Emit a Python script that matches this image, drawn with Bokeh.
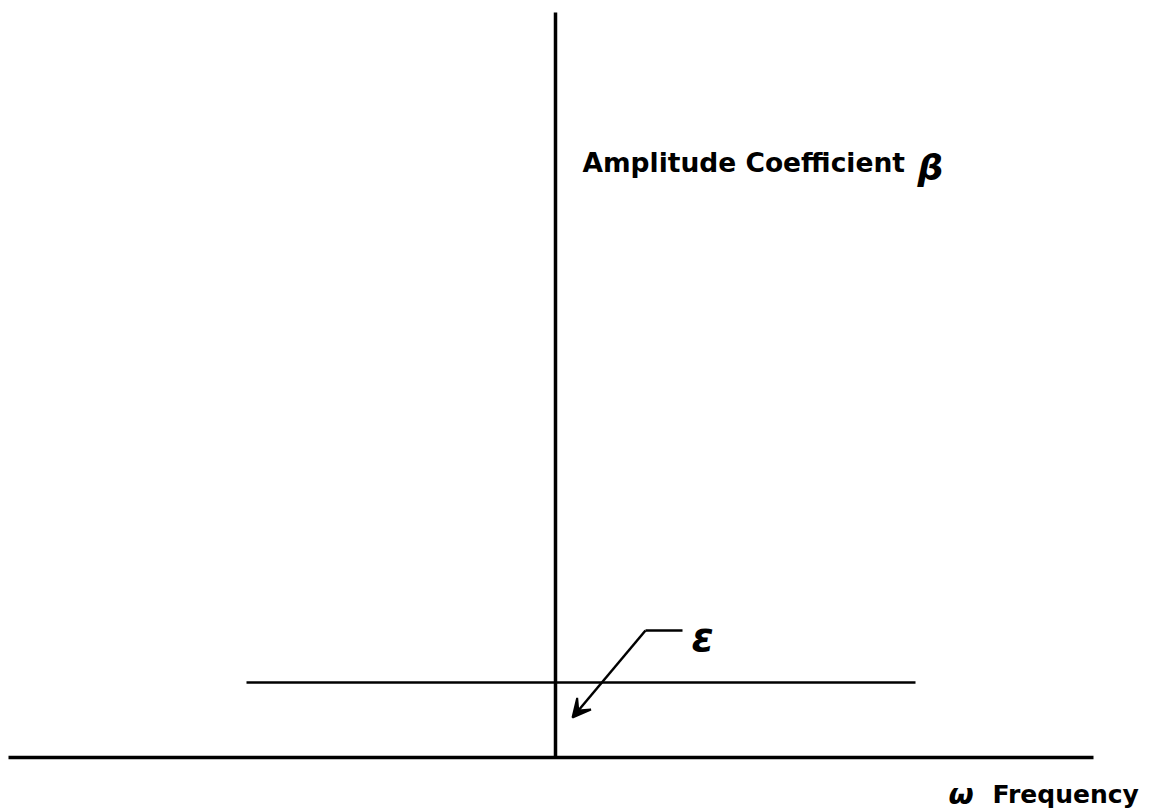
from bokeh.plotting import figure
from bokeh.models import Range1d, Arrow, VeeHead
from bokeh.core.properties import value
from bokeh.embed import file_html
from bokeh.resources import INLINE

# Schematic coordinates (origin at the intersection of the two axes)
freq_axis_x = [-547, 538]
freq_axis_y = [0, 0]
amp_axis_x = [0, 0]
amp_axis_y = [0, 745]
eps_x = [-309, 360]
eps_y = [75, 75]
leader_x = [127, 90]
leader_y = [127, 127]
arrow_tip = [17, 40]

amp_label = "Amplitude Coefficient"
amp_label_pos = [27, 595]
beta_label = "β"
beta_pos = [362, 590]
eps_label = "ε"
eps_pos = [136, 121]
omega_label = "ω"
omega_pos = [393, -36]
freq_label = "Frequency"
freq_pos = [437, -37]

W, H = 1151, 812
p = figure(width=W, height=H, output_backend="svg", toolbar_location=None,
           x_range=Range1d(-555, 596), y_range=Range1d(-55, 757),
           min_border=0, min_border_left=0, min_border_right=0,
           min_border_top=0, min_border_bottom=0)
p.axis.visible = False
p.grid.visible = False
p.outline_line_color = None
p.background_fill_color = "white"
p.border_fill_color = "white"

p.line(freq_axis_x, freq_axis_y, line_color="black", line_width=3.5)
p.line(amp_axis_x, amp_axis_y, line_color="black", line_width=3.5)
p.line(eps_x, eps_y, line_color="black", line_width=2.5)
p.line(leader_x, leader_y, line_color="black", line_width=2.5)
p.add_layout(Arrow(end=VeeHead(size=18, fill_color="black", line_color="black", line_width=2),
                   x_start=leader_x[1], y_start=leader_y[1],
                   x_end=arrow_tip[0], y_end=arrow_tip[1],
                   line_color="black", line_width=2.5))

font = value("DejaVu Sans")
p.text(x=[amp_label_pos[0]], y=[amp_label_pos[1]], text=[amp_label], text_font=font,
       text_font_size="26.5px", text_font_style="bold", text_color="black",
       text_align="left", text_baseline="alphabetic")
p.text(x=[beta_pos[0]], y=[beta_pos[1]], text=[beta_label], text_font=font,
       text_font_size="36px", text_font_style="bold italic", text_color="black",
       text_align="left", text_baseline="alphabetic")
p.text(x=[eps_pos[0]], y=[eps_pos[1]], text=[eps_label], text_font=font,
       text_font_size="40px", text_font_style="bold italic", text_color="black",
       text_align="left", text_baseline="alphabetic")
p.text(x=[omega_pos[0]], y=[omega_pos[1]], text=[omega_label], text_font=font,
       text_font_size="29px", text_font_style="bold italic", text_color="black",
       text_align="left", text_baseline="alphabetic")
p.text(x=[freq_pos[0]], y=[freq_pos[1]], text=[freq_label], text_font=font,
       text_font_size="25px", text_font_style="bold", text_color="black",
       text_align="left", text_baseline="alphabetic")

open("out.html", "w").write(file_html(p, INLINE))
